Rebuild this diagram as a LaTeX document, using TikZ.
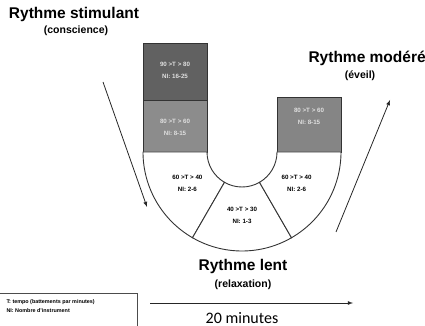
\documentclass[tikz,border=0pt]{standalone}
\usepackage{fontspec}
\setmainfont{Liberation Sans}
\newfontfamily\calfont{Carlito}
\usetikzlibrary{calc}
\tikzset{
  zone/.style={draw=black!80,line width=0.9pt},
  boxtext/.style={font=\bfseries\fontsize{6.2}{8}\selectfont,align=center},
  title/.style={font=\bfseries\fontsize{15.5}{17}\selectfont},
  subtitle/.style={font=\bfseries\fontsize{10.5}{12}\selectfont},
  legend/.style={anchor=west,font=\bfseries\fontsize{5.4}{7}\selectfont},
  flow/.style={draw=black!85,line width=0.8pt,-latex}
}
\begin{document}
\begin{tikzpicture}[x=1pt,y=1pt]
\useasboundingbox (0,0) rectangle (425,326);
\coordinate (c) at (242,174);

% colonne gauche
\path[zone,fill=black!62] (143,283) rectangle (207,226);
\path[zone,fill=black!45] (143,226) rectangle (207,174);
% colonne droite
\path[zone,fill=black!48] (277,229) rectangle (341,174);

% demi-couronne du bas
\path[zone,fill=white] ($(c)+(180:99)$) arc (180:240:99) -- ($(c)+(240:35)$) arc (240:180:35) -- cycle;
\path[zone,fill=white] ($(c)+(240:99)$) arc (240:300:99) -- ($(c)+(300:35)$) arc (300:240:35) -- cycle;
\path[zone,fill=white] ($(c)+(300:99)$) arc (300:360:99) -- ($(c)+(360:35)$) arc (360:300:35) -- cycle;

\node[boxtext,text=black!12] (fastA) at (175,256) {90 >T > 80\\[4pt]NI: 16-25};
\node[boxtext,text=black!12] (fastB) at (175,199) {80 >T > 60\\[4pt]NI: 8-15};
\node[boxtext,text=black!12] (midA) at (309,210) {80 >T > 60\\[4pt]NI: 8-15};
\node[boxtext] (slowL) at ($(c)+(210:63)$) {60 >T > 40\\[4pt]NI: 2-6};
\node[boxtext] (slowB) at ($(c)+(270:63)$) {40 >T > 30\\[4pt]NI: 1-3};
\node[boxtext] (slowR) at ($(c)+(330:63)$) {60 >T > 40\\[4pt]NI: 2-6};

% titres
\node[title] (stim) at (74,312) {Rythme stimulant};
\node[subtitle] (stimsub) at (76,295) {(conscience)};
\node[title,anchor=west] (mod) at (305,268) {Rythme modéré};
\node[subtitle] (modsub) at (360,250) {(éveil)};
\node[title] (lent) at (243,60) {Rythme lent};
\node[subtitle] (lentsub) at (243,41) {(relaxation)};

% fleches
\coordinate (inA) at (103,244);
\coordinate (inB) at (147,119);
\coordinate (outA) at (336,94);
\coordinate (outB) at (390,226);
\draw[flow] (inA) -- (inB);
\draw[flow] (outA) -- (outB);

\coordinate (t0) at (150,23);
\coordinate (t1) at (353,23);
\draw[flow] (t0) -- (t1);
\node[font=\calfont\fontsize{16}{18}\selectfont] (duree) at (242,8) {20 minutes};

% legende
\draw[black!70,line width=0.5pt] (-1,33) -- (137,33) -- (137,-2);
\node[legend] (legT) at (3,24) {T: tempo (battements par minutes)};
\node[legend] (legNI) at (3,15) {NI: Nombre d'instrument};
\end{tikzpicture}
\end{document}
